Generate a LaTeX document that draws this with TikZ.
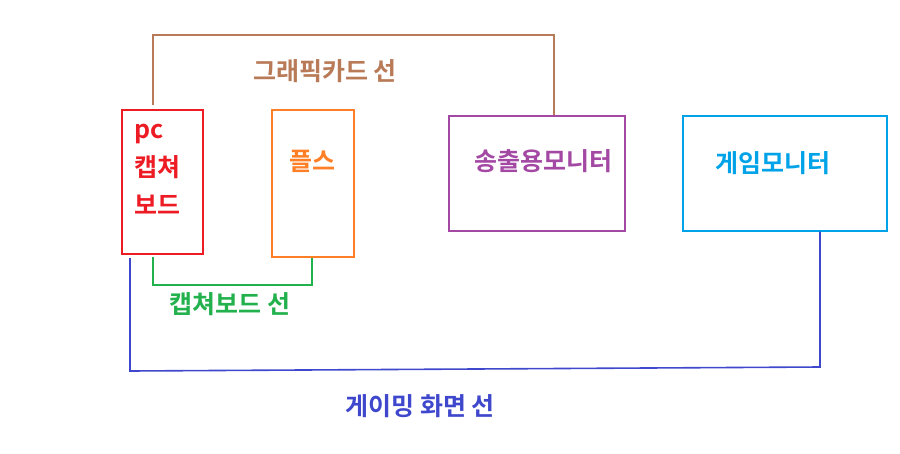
\documentclass[tikz,border=0pt]{standalone}
\usepackage{fontspec}
\setmainfont{Noto Sans CJK KR}[BoldFont={Noto Sans CJK KR Bold}]
\begin{document}
\begin{tikzpicture}[x=1pt,y=-1pt,
  box/.style={draw,line width=1.6pt},
  wire/.style={line width=1.6pt},
  lbl/.style={font=\bfseries\fontsize{25}{38}\selectfont}]
\useasboundingbox (0,0) rectangle (900,453);
\definecolor{cred}{RGB}{237,28,36}
\definecolor{corange}{RGB}{255,127,39}
\definecolor{cpurple}{RGB}{163,73,164}
\definecolor{cblue}{RGB}{0,162,232}
\definecolor{cbrown}{RGB}{185,122,87}
\definecolor{cgreen}{RGB}{34,177,76}
\definecolor{cindigo}{RGB}{63,72,204}
\node[box,cred,minimum width=81pt,minimum height=144pt,anchor=north west] (pc) at (121,109) {};
\node[lbl,cred,align=left,anchor=north west,inner sep=0pt] (pct) at (134,124) {pc\\캡쳐\\보드};
\node[box,corange,minimum width=82pt,minimum height=147pt,anchor=north west] (ps) at (271,109) {};
\node[lbl,corange] (pst) at (312,161) {플스};
\node[box,cpurple,minimum width=176pt,minimum height=115pt,anchor=north west] (out) at (448,115) {};
\node[lbl,cpurple] (outt) at (543,161) {송출용모니터};
\node[box,cblue,minimum width=204pt,minimum height=115pt,anchor=north west] (gm) at (682,115) {};
\node[lbl,cblue] (gmt) at (773,163) {게임모니터};
\coordinate (b1) at (153,35); \coordinate (b2) at (554,35);
\draw[wire,cbrown] (153,105) -- (b1) -- (b2) -- (out.north -| b2);
\node[lbl,cbrown] (bl) at (325,71) {그래픽카드 선};
\coordinate (g1) at (153,285); \coordinate (g2) at (312,285);
\draw[wire,cgreen] (153,257) -- (g1) -- (g2) -- (ps.south -| g2);
\node[lbl,cgreen] (gl) at (230,304) {캡쳐보드 선};
\coordinate (i1) at (130,371); \coordinate (i2) at (820,367);
\draw[wire,cindigo] (130,258) -- (i1) -- (i2) -- (gm.south -| i2);
\node[lbl,cindigo] (il) at (420,406) {게이밍 화면 선};
\end{tikzpicture}
\end{document}
